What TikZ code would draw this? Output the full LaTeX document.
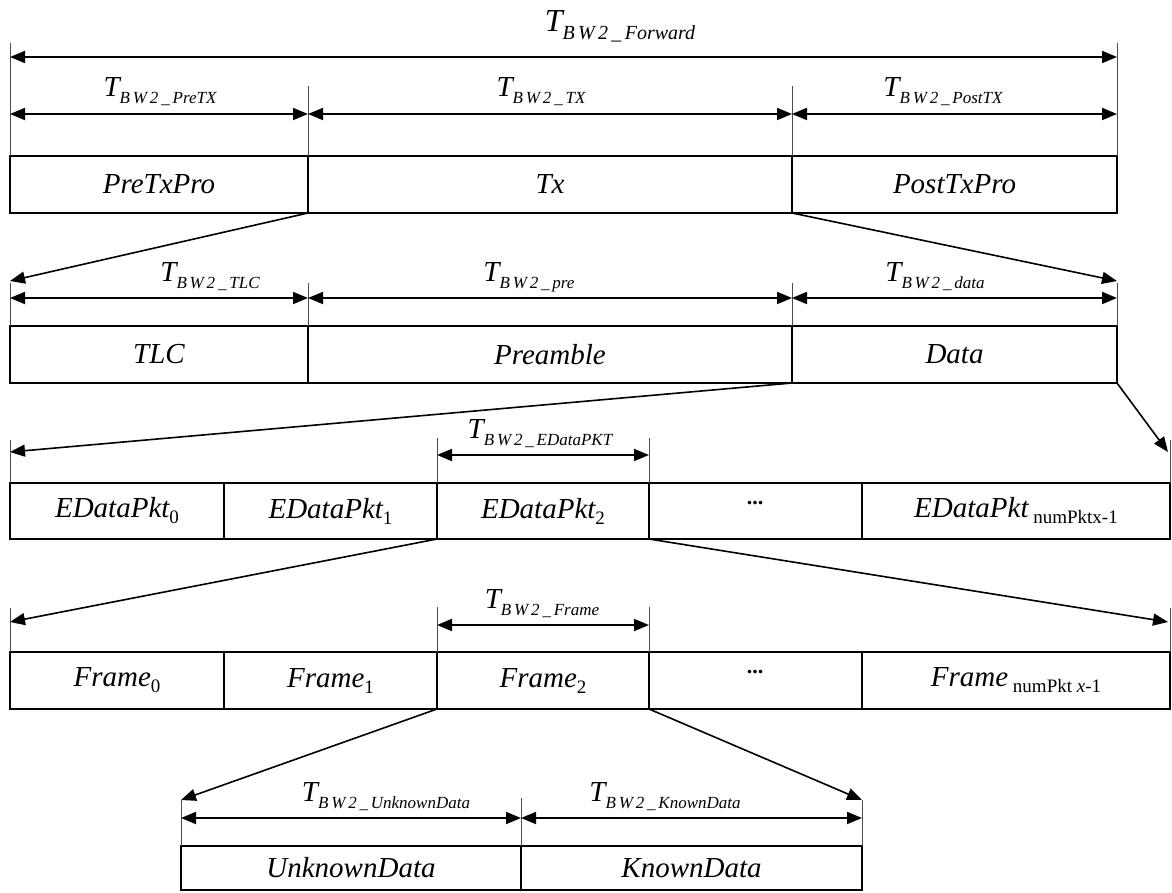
\documentclass[tikz,border=0pt]{standalone}
\usepackage{fontspec}
\setmainfont{Liberation Serif}
\usetikzlibrary{arrows.meta}

% time label T with an italic subscript, e.g. T_{BW2 _ PreTX}
\newcommand\Tlab[1]{{\fontsize{29}{29}\selectfont\itshape T\raisebox{-7pt}{\fontsize{17}{17}\selectfont B\,W\,2\,\_\,#1}}}
\newcommand\Tbig[1]{{\fontsize{32}{32}\selectfont\itshape T\raisebox{-8pt}{\fontsize{20}{20}\selectfont B\,W\,2\,\_\,#1}}}
\newcommand\idx[1]{\raisebox{-6pt}{\fontsize{19}{19}\selectfont\upshape #1}}

\tikzset{
  cell/.style={draw, line width=2.2pt, anchor=north west, inner sep=0pt, outer sep=0pt,
               font=\fontsize{29}{29}\selectfont\itshape},
  dim/.style={line width=1.8pt, {Triangle[length=15pt,width=12pt]}-{Triangle[length=15pt,width=12pt]}},
  fan/.style={line width=1.6pt, -{Triangle[length=15pt,width=12pt]}},
  tick/.style={line width=1pt, draw=black!70},
  lbl/.style={inner sep=0pt, anchor=base},
}

\begin{document}
\begin{tikzpicture}[x=1pt, y=-1pt]
\useasboundingbox (0,0) rectangle (1172,893);

% ---------- row 1: forward period ----------
\node[cell, minimum width=298pt, minimum height=57pt] (pre)  at (10,156)  {PreTxPro};
\node[cell, minimum width=484pt, minimum height=57pt] (tx)   at (308,156) {Tx};
\node[cell, minimum width=325pt, minimum height=57pt] (post) at (792,156) {PostTxPro};

\draw[tick] (10,43) -- (pre.north west);
\draw[tick] (1117,43) -- (post.north east);
\draw[tick] (308,86) -- (tx.north west);
\draw[tick] (792,86) -- (post.north west);

\coordinate (fwdL) at (10,57);
\coordinate (fwdR) at (1117,57);
\draw[dim] (fwdL) -- (fwdR);
\node[lbl] (lfwd) at (620,32) {\Tbig{Forward}};

\coordinate (a1) at (10,114);
\coordinate (a2) at (308,114);
\coordinate (a3) at (792,114);
\coordinate (a4) at (1117,114);
\draw[dim] (a1) -- (a2);
\draw[dim] (a2) -- (a3);
\draw[dim] (a3) -- (a4);
\node[lbl] (lpretx)  at (160,97) {\Tlab{PreTX}};
\node[lbl] (ltx)     at (541,97) {\Tlab{TX}};
\node[lbl] (lposttx) at (943,97) {\Tlab{PostTX}};

% ---------- row 2: transmission ----------
\node[cell, minimum width=298pt, minimum height=57pt] (tlc)  at (10,326)  {TLC};
\node[cell, minimum width=484pt, minimum height=57pt] (pream) at (308,326) {Preamble};
\node[cell, minimum width=325pt, minimum height=57pt] (data) at (792,326) {Data};

\coordinate (r2L) at (10,281);
\coordinate (r2R) at (1117,281);
\draw[fan] (pre.south east) -- (r2L);
\draw[fan] (post.south west) -- (r2R);

\draw[tick] (10,283) -- (tlc.north west);
\draw[tick] (308,283) -- (pream.north west);
\draw[tick] (792,283) -- (data.north west);
\draw[tick] (1117,283) -- (data.north east);

\coordinate (b1) at (10,298);
\coordinate (b2) at (308,298);
\coordinate (b3) at (792,298);
\coordinate (b4) at (1117,298);
\draw[dim] (b1) -- (b2);
\draw[dim] (b2) -- (b3);
\draw[dim] (b3) -- (b4);
\node[lbl] (ltlc)  at (210,281) {\Tlab{TLC}};
\node[lbl] (lpre)  at (529,281) {\Tlab{pre}};
\node[lbl] (ldata) at (935,281) {\Tlab{data}};

% ---------- row 3: data packets ----------
\node[cell, minimum width=214pt, minimum height=56pt] (ep0) at (10,483)  {EDataPkt\idx{0}};
\node[cell, minimum width=213pt, minimum height=56pt] (ep1) at (224,483) {EDataPkt\idx{1}};
\node[cell, minimum width=212pt, minimum height=56pt] (ep2) at (437,483) {EDataPkt\idx{2}};
\node[cell, minimum width=213pt, minimum height=56pt] (epd) at (649,483) {};
\node[cell, minimum width=308pt, minimum height=56pt] (epn) at (862,483) {EDataPkt\idx{ numPktx-1}};
\node[inner sep=0pt, font=\fontsize{22}{22}\selectfont\bfseries] (dots3) at (755,503) {...};

\coordinate (r3L) at (10,452);
\coordinate (r3R) at (1168,452);
\draw[fan] (data.south west) -- (r3L);
\draw[fan] (data.south east) -- (r3R);

\draw[tick] (10,440) -- (ep0.north west);
\draw[tick] (1170,440) -- (epn.north east);
\draw[tick] (437,438) -- (ep2.north west);
\draw[tick] (649,438) -- (ep2.north east);

\coordinate (c1) at (437,455);
\coordinate (c2) at (649,455);
\draw[dim] (c1) -- (c2);
\node[lbl] (lepkt) at (540,438) {\Tlab{EDataPKT}};

% ---------- row 4: frames ----------
\node[cell, minimum width=214pt, minimum height=57pt] (fr0) at (10,652)  {Frame\idx{0}};
\node[cell, minimum width=213pt, minimum height=57pt] (fr1) at (224,652) {Frame\idx{1}};
\node[cell, minimum width=212pt, minimum height=57pt] (fr2) at (437,652) {Frame\idx{2}};
\node[cell, minimum width=213pt, minimum height=57pt] (frd) at (649,652) {};
\node[cell, minimum width=308pt, minimum height=57pt] (frn) at (862,652) {Frame\idx{ numPkt \itshape x\upshape -1}};
\node[inner sep=0pt, font=\fontsize{22}{22}\selectfont\bfseries] (dots4) at (755,672) {...};

\coordinate (r4L) at (10,622);
\coordinate (r4R) at (1168,622);
\draw[fan] (ep2.south west) -- (r4L);
\draw[fan] (ep2.south east) -- (r4R);

\draw[tick] (10,608) -- (fr0.north west);
\draw[tick] (1170,608) -- (frn.north east);
\draw[tick] (437,607) -- (fr2.north west);
\draw[tick] (649,607) -- (fr2.north east);

\coordinate (e1) at (437,625);
\coordinate (e2) at (649,625);
\draw[dim] (e1) -- (e2);
\node[lbl] (lframe) at (542,608) {\Tlab{Frame}};

% ---------- row 5: frame content ----------
\node[cell, minimum width=340pt, minimum height=44pt] (unk) at (181,846) {UnknownData};
\node[cell, minimum width=341pt, minimum height=44pt] (knw) at (521,846) {KnownData};

\coordinate (r5L) at (181,800);
\coordinate (r5R) at (862,800);
\draw[fan] (fr2.south west) -- (r5L);
\draw[fan] (fr2.south east) -- (r5R);

\draw[tick] (181,800) -- (unk.north west);
\draw[tick] (521,798) -- (knw.north west);
\draw[tick] (862,800) -- (knw.north east);

\coordinate (g1) at (181,818);
\coordinate (g2) at (521,818);
\coordinate (g3) at (862,818);
\draw[dim] (g1) -- (g2);
\draw[dim] (g2) -- (g3);
\node[lbl] (lunk) at (386,801) {\Tlab{UnknownData}};
\node[lbl] (lknw) at (665,801) {\Tlab{KnownData}};
\end{tikzpicture}
\end{document}
